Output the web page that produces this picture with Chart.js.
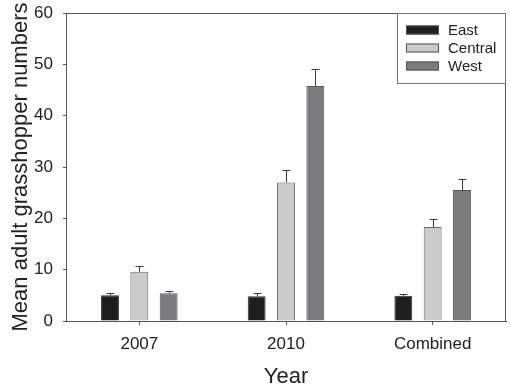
<!DOCTYPE html>
<html>
<head>
<meta charset="utf-8">
<script src="https://cdn.jsdelivr.net/npm/chart.js@4/dist/chart.umd.min.js"></script>
<style>
  html, body { margin: 0; padding: 0; background: #fff; }
  #wrap { width: 510px; height: 386px; position: relative; }
</style>
</head>
<body>
<div id="wrap"><canvas id="c"></canvas></div>
<script>
const categories = ['2007', '2010', 'Combined'];
const seriesNames = ['East', 'Central', 'West'];
const eastValues = [5.0, 4.8, 4.9];
const eastErrors = [0.45, 0.6, 0.4];
const centralValues = [9.6, 27.0, 18.3];
const centralErrors = [1.2, 2.5, 1.5];
const westValues = [5.4, 45.8, 25.5];
const westErrors = [0.5, 3.2, 2.2];
const yTicks = [0, 10, 20, 30, 40, 50, 60];

const FONT = '"Liberation Sans", Arial, sans-serif';
const AXIS = '#555555';

const errorBarPlugin = {
  id: 'errorBars',
  afterDatasetsDraw(chart) {
    const ctx = chart.ctx;
    const y = chart.scales.y;
    ctx.save();
    ctx.strokeStyle = '#3a3a3a';
    ctx.lineWidth = 1;
    chart.data.datasets.forEach((ds, di) => {
      const meta = chart.getDatasetMeta(di);
      meta.data.forEach((bar, i) => {
        const top = y.getPixelForValue(ds.data[i] + ds.errors[i]);
        const x = Math.round(bar.x) + 0.5;
        ctx.beginPath();
        ctx.moveTo(x, bar.y);
        ctx.lineTo(x, Math.round(top) + 0.5);
        ctx.moveTo(x - 4, Math.round(top) + 0.5);
        ctx.lineTo(x + 4, Math.round(top) + 0.5);
        ctx.stroke();
      });
    });
    ctx.restore();
  }
};

const framePlugin = {
  id: 'frame',
  afterDraw(chart) {
    const a = chart.chartArea;
    const ctx = chart.ctx;
    ctx.save();
    ctx.strokeStyle = AXIS;
    ctx.lineWidth = 1;
    ctx.beginPath();
    ctx.moveTo(a.left + 0.5, a.top + 0.5);
    ctx.lineTo(a.right - 0.5, a.top + 0.5);
    ctx.lineTo(a.right - 0.5, a.bottom);
    ctx.stroke();
    // legend box
    const lx = 397.5, ly = a.top + 0.5, lw = a.right - 0.5 - 397.5, lh = 70;
    ctx.fillStyle = '#fff';
    ctx.fillRect(lx, ly, lw, lh);
    ctx.strokeStyle = '#777';
    ctx.strokeRect(lx, ly, lw, lh);
    ctx.font = '15px ' + FONT;
    ctx.textBaseline = 'middle';
    ctx.textAlign = 'left';
    chart.data.datasets.forEach((ds, i) => {
      const cy = a.top + 17 + i * 18;
      ctx.fillStyle = ds.backgroundColor;
      ctx.fillRect(406, cy - 4.5, 33, 9);
      ctx.strokeStyle = '#555';
      ctx.strokeRect(406.5, cy - 4, 32, 8);
      ctx.fillStyle = '#222';
      ctx.fillText(ds.label, 448, cy + 1);
    });
    ctx.restore();
  }
};

new Chart(document.getElementById('c'), {
  type: 'bar',
  data: {
    labels: categories,
    datasets: [
      { label: seriesNames[0], data: eastValues, errors: eastErrors, backgroundColor: '#1e1e1e', borderColor: '#333', borderWidth: 1 },
      { label: seriesNames[1], data: centralValues, errors: centralErrors, backgroundColor: '#cbcbcb', borderColor: '#666', borderWidth: 1 },
      { label: seriesNames[2], data: westValues, errors: westErrors, backgroundColor: '#7b7b7d', borderColor: '#555', borderWidth: 1 }
    ]
  },
  options: {
    responsive: true,
    maintainAspectRatio: false,
    animation: false,
    categoryPercentage: 0.6,
    barPercentage: 0.61,
    layout: { padding: { top: 13, right: 4, left: 0, bottom: 0 } },
    plugins: { legend: { display: false }, tooltip: { enabled: false } },
    scales: {
      x: {
        offset: true,
        grid: { display: true, drawOnChartArea: false, drawTicks: true, tickLength: 4, color: AXIS, offset: false },
        border: { display: true, color: AXIS, width: 1 },
        ticks: { color: '#222', font: { family: FONT, size: 17 }, padding: 9 },
        title: { display: true, text: 'Year', color: '#222', font: { family: FONT, size: 22, lineHeight: 0.86 }, padding: 0 },
        afterFit(s) { s.height = 65; s.paddingLeft = 0; s.paddingRight = 0; }
      },
      y: {
        min: 0, max: 60,
        afterBuildTicks(s) { s.ticks = yTicks.map(v => ({ value: v })); },
        grid: { display: true, drawOnChartArea: false, drawTicks: true, tickLength: 3, color: AXIS },
        border: { display: true, color: AXIS, width: 1 },
        ticks: { color: '#222', font: { family: FONT, size: 17 }, padding: 10 },
        title: { display: true, text: 'Mean adult grasshopper numbers', color: '#222', font: { family: FONT, size: 22, lineHeight: 1.2 }, padding: { top: 8, bottom: 0 } },
        afterFit(s) { s.width = 66; s.paddingTop = 0; s.paddingBottom = 0; }
      }
    }
  },
  plugins: [errorBarPlugin, framePlugin]
});
</script>
</body>
</html>
